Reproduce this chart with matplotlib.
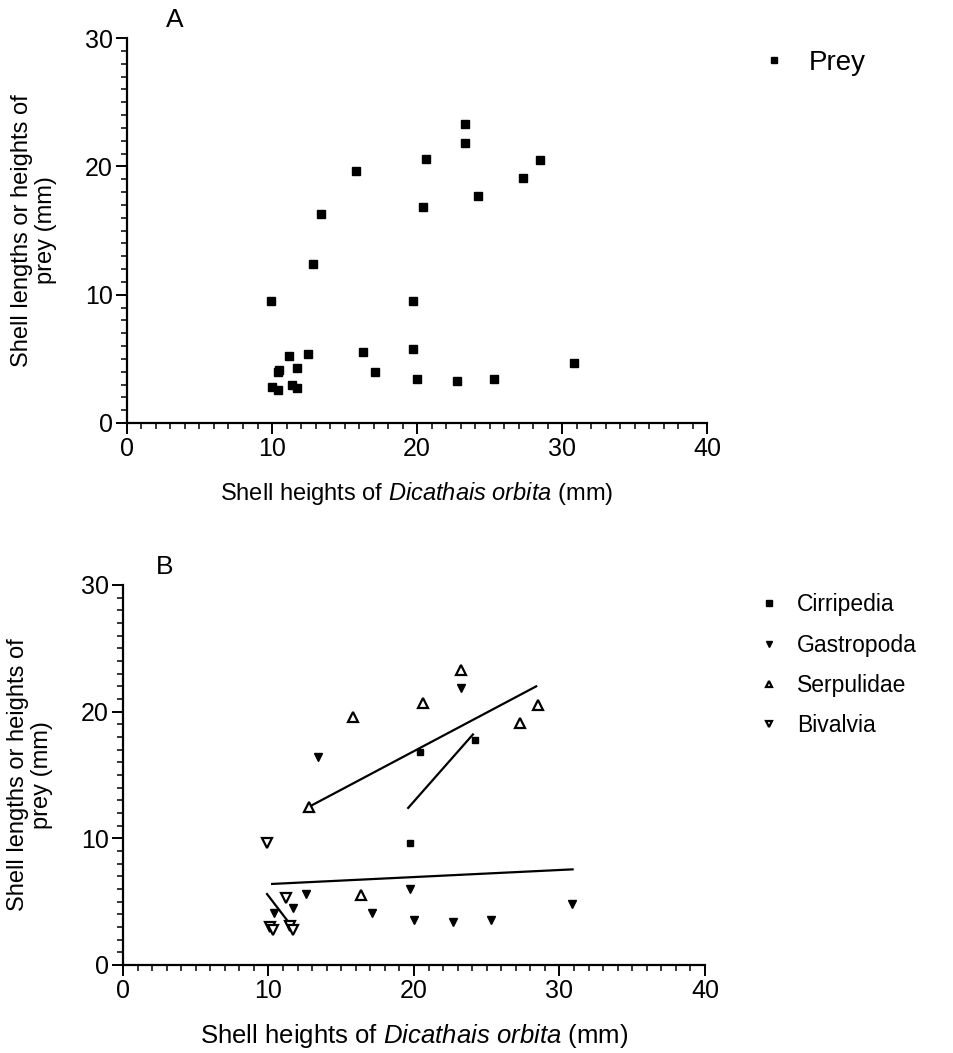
import matplotlib
matplotlib.use('Agg')
import matplotlib.pyplot as plt
from matplotlib.ticker import MultipleLocator

plt.rcParams['font.family'] = ['Liberation Sans', 'DejaVu Sans']
plt.rcParams['mathtext.fontset'] = 'custom'
plt.rcParams['mathtext.rm'] = 'Liberation Sans'
plt.rcParams['mathtext.it'] = 'Liberation Sans:italic'

# ---------------- Data ----------------
# Panel A: all prey
prey_x = [9.9, 12.8, 13.4, 15.8, 20.65, 20.4, 23.3, 23.3, 24.2, 27.3, 28.5,
          19.7, 19.7, 20.0, 22.75, 25.3, 16.3, 17.1, 12.5, 11.2, 11.7,
          10.4, 10.5, 10.0, 10.4, 11.4, 11.7, 30.8]
prey_y = [9.5, 12.4, 16.3, 19.6, 20.6, 16.8, 23.3, 21.8, 17.7, 19.1, 20.5,
          9.5, 5.8, 3.4, 3.3, 3.4, 5.5, 4.0, 5.4, 5.2, 4.3,
          4.0, 4.1, 2.8, 2.6, 3.0, 2.7, 4.7]

# Panel B: by prey group
cirr_x = [20.4, 24.2, 19.7]
cirr_y = [16.8, 17.8, 9.6]
gast_x = [23.2, 13.4, 19.7, 12.55, 11.7, 10.4, 17.1, 20.0, 22.7, 25.3, 30.85]
gast_y = [21.9, 16.4, 6.0, 5.6, 4.5, 4.1, 4.1, 3.55, 3.4, 3.55, 4.8]
serp_x = [23.2, 20.6, 15.8, 12.8, 27.3, 28.5, 16.35]
serp_y = [23.3, 20.7, 19.6, 12.5, 19.1, 20.5, 5.5]
biv_x = [9.9, 11.2, 10.1, 10.3, 11.5, 11.7]
biv_y = [9.6, 5.3, 3.0, 2.8, 3.1, 2.8]

# fitted regression lines (end points)
serp_fit_x = [12.8, 28.4]
serp_fit_y = [12.5, 22.0]
cirr_fit_x = [19.6, 24.05]
cirr_fit_y = [12.4, 18.2]
gast_fit_x = [10.25, 30.9]
gast_fit_y = [6.4, 7.55]
biv_fit_x = [9.9, 11.7]
biv_fit_y = [5.6, 2.9]

x_ticks = [0, 10, 20, 30, 40]
y_ticks = [0, 10, 20, 30]
ylabel_text = "Shell lengths or heights of\nprey (mm)"
xlabel_text = r"Shell heights of $\it{Dicathais\ orbita}$ (mm)"

W, H = 954, 1053
fig = plt.figure(figsize=(W / 100, H / 100), dpi=100)
axA = fig.add_axes([127 / W, 1 - 423 / H, 580 / W, 385 / H])
axB = fig.add_axes([123 / W, 1 - 965 / H, 582 / W, 380 / H])


def style(ax, xlabel_size):
    ax.set_xlim(0, 40)
    ax.set_ylim(0, 30)
    for s in ['top', 'right']:
        ax.spines[s].set_visible(False)
    for s in ['left', 'bottom']:
        ax.spines[s].set_linewidth(1.6)
    ax.set_xticks(x_ticks)
    ax.set_yticks(y_ticks)
    ax.xaxis.set_minor_locator(MultipleLocator(1))
    ax.yaxis.set_minor_locator(MultipleLocator(1))
    ax.tick_params(which='major', length=8, width=1.4, labelsize=18,
                   direction='out', pad=2)
    ax.tick_params(which='minor', length=4.5, width=1.1, direction='out')
    ax.set_ylabel(ylabel_text, fontsize=17, labelpad=20, linespacing=1.15)
    ax.set_xlabel(xlabel_text, fontsize=xlabel_size, labelpad=14)


style(axA, 17)
style(axB, 18.5)

# Panel A
axA.plot(prey_x, prey_y, linestyle='none', marker='s', color='black',
         markersize=5.5, clip_on=False, label='Prey')
axA.text(175 / W, 1 - 20 / H, 'A', transform=fig.transFigure, fontsize=19,
         ha='center', va='center')
axA.legend(loc='center left', bbox_to_anchor=(753 / W, 1 - 63 / H),
           bbox_transform=fig.transFigure, frameon=False, fontsize=20,
           handlelength=0.5, handletextpad=1.0, borderpad=0, markerscale=0.75)

# Panel B
axB.plot(cirr_fit_x, cirr_fit_y, color='black', lw=1.6)
axB.plot(serp_fit_x, serp_fit_y, color='black', lw=1.6)
axB.plot(gast_fit_x, gast_fit_y, color='black', lw=1.6)
axB.plot(biv_fit_x, biv_fit_y, color='black', lw=1.6)
axB.plot(cirr_x, cirr_y, linestyle='none', marker='s', color='black',
         markersize=5, label='Cirripedia')
axB.plot(gast_x, gast_y, linestyle='none', marker='v', color='black',
         markersize=6, label='Gastropoda')
axB.plot(serp_x, serp_y, linestyle='none', marker='^', markerfacecolor='white',
         markeredgecolor='black', markeredgewidth=1.6, markersize=6.5,
         label='Serpulidae')
axB.plot(biv_x, biv_y, linestyle='none', marker='v', markerfacecolor='white',
         markeredgecolor='black', markeredgewidth=1.6, markersize=6.5,
         label='Bivalvia')
axB.text(165 / W, 1 - 567 / H, 'B', transform=fig.transFigure, fontsize=19,
         ha='center', va='center')
axB.legend(loc='upper left', bbox_to_anchor=(751 / W, 1 - 582 / H),
           bbox_transform=fig.transFigure, frameon=False, fontsize=16.5,
           handlelength=0.6, handletextpad=0.9, borderpad=0,
           labelspacing=0.75, markerscale=0.75)

fig.savefig('out.png', dpi=100)
